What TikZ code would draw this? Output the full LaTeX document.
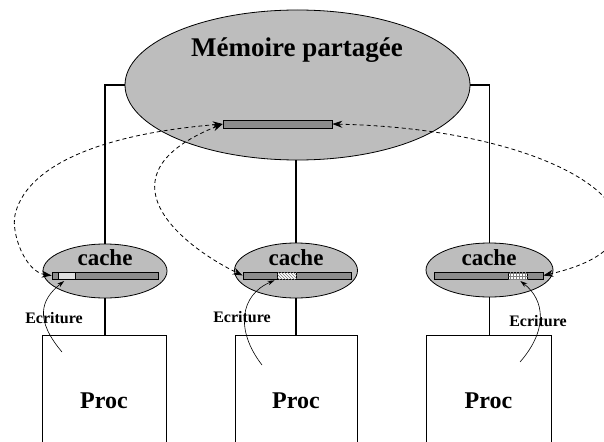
\documentclass[tikz,border=0pt]{standalone}
\usepackage{fontspec}
\setmainfont{Liberation Serif}
\usetikzlibrary{arrows.meta,shapes.geometric,patterns}
\definecolor{ellfill}{HTML}{BDBDBD}
\definecolor{barfill}{HTML}{8C8C8C}
\begin{document}
\begin{tikzpicture}[x=1pt,y=-1pt,
  bigell/.style={ellipse, draw, line width=0.8pt, fill=ellfill, inner sep=0pt},
  bar/.style={rectangle, draw, line width=0.6pt, fill=barfill, inner sep=0pt, minimum height=7pt},
  seg/.style={rectangle, draw, line width=0.4pt, inner sep=0pt, minimum height=7pt, minimum width=19pt},
  link/.style={line width=1.3pt},
  share/.style={dash pattern=on 4pt off 3pt, line width=0.8pt, {Stealth[length=10pt,width=7pt]}-{Stealth[length=10pt,width=7pt]}},
  write/.style={line width=0.6pt, -{Stealth[length=7pt,width=4.5pt]}, shorten >=3pt},
  procbox/.style={rectangle, draw, line width=0.8pt, minimum height=132pt, inner sep=0pt, font=\bfseries\fontsize{24}{26}\selectfont},
  cachetxt/.style={anchor=base, font=\bfseries\fontsize{23}{25}\selectfont},
  wtxt/.style={anchor=base, font=\bfseries\fontsize{16}{18}\selectfont}]
\useasboundingbox (0,0) rectangle (604,441);

% shared memory
\node[bigell, minimum width=345pt, minimum height=150pt] (mem) at (297.5,85) {};
\node[anchor=base, font=\bfseries\fontsize{27}{30}\selectfont] (memtxt) at (297,57) {Mémoire partagée};
\node[bar, minimum width=109pt, minimum height=8pt] (mbar) at (277.5,124) {};

% caches
\node[bigell, minimum width=124pt, minimum height=54pt] (c1) at (105,271) {};
\node[bigell, minimum width=123pt, minimum height=55pt] (c2) at (296,270.5) {};
\node[bigell, minimum width=127pt, minimum height=54pt] (c3) at (489.5,270) {};
\node[cachetxt] (t1) at (105,265) {cache};
\node[cachetxt] (t2) at (296,265) {cache};
\node[cachetxt] (t3) at (489,265) {cache};

\node[bar, minimum width=106pt] (b1) at (105,275.5) {};
\node[bar, minimum width=108pt] (b2) at (297,275.5) {};
\node[bar, minimum width=109pt] (b3) at (488.5,275.5) {};
\node[seg, minimum width=17pt, fill=gray!25] (s1) at (66.5,275.5) {};
\node[seg, fill=white, postaction={pattern=north west lines, pattern color=gray}] (s2) at (287,275.5) {};
\node[seg, fill=white, postaction={pattern=grid, pattern color=gray}] (s3) at (518,275.5) {};

% processors
\node[procbox, minimum width=124pt] (p1) at (104,401) {Proc};
\node[procbox, minimum width=122pt] (p2) at (296,401) {Proc};
\node[procbox, minimum width=125pt] (p3) at (488.5,401) {Proc};

% links
\draw[link] (mem.west) -| (c1.north);
\draw[link] (c2.north |- mem.south) -- (c2.north);
\draw[link] (mem.east) -| (c3.north);
\draw[link] (c1.south) -- (c1.south |- p1.north);
\draw[link] (c2.south) -- (c2.south |- p2.north);
\draw[link] (c3.south) -- (c3.south |- p3.north);

% coherence traffic
\draw[share] (b1.west) .. controls (25,272) and (11,233) .. (15,215)
  .. controls (25,170) and (90,135) .. (mbar.west);
\draw[share] (mbar.west) .. controls (95,175) and (180,245) .. (b2.west);
\draw[share] (mbar.east) .. controls (590,130) and (700,240) .. (b3.east);

% writes
\coordinate (w1) at (62,352);
\coordinate (w2) at (262,365);
\coordinate (w3) at (520,362);
\draw[write] (w1) .. controls (35,320) and (40,300) .. (s1.south);
\draw[write] (w2) .. controls (235,330) and (240,295) .. (s2.south west);
\draw[write] (w3) .. controls (548,330) and (545,300) .. (s3.south);
\node[wtxt] (e1) at (54,323) {Ecriture};
\node[wtxt] (e2) at (242,322) {Ecriture};
\node[wtxt] (e3) at (538,326) {Ecriture};
\end{tikzpicture}
\end{document}
